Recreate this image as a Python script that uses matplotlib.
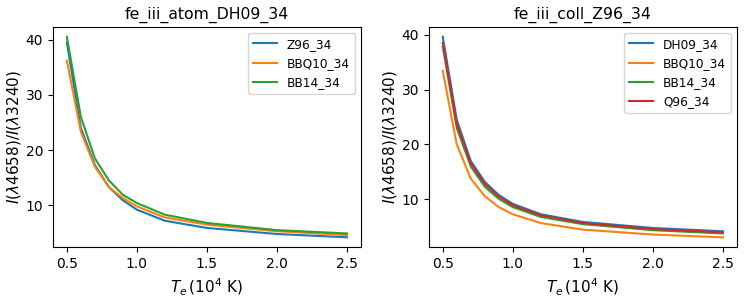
import matplotlib
matplotlib.use("Agg")
from matplotlib import pyplot as plt

# temperature grid in units of 10^4 K
te = [0.5, 0.6, 0.7, 0.8, 0.9, 1.0, 1.2, 1.5, 2.0, 2.5]

# left panel: fe_iii_atom_DH09_34
atom_z96 = [39.5, 24.0, 17.3, 13.3, 10.9, 9.2, 7.2, 5.9, 4.8, 4.2]
atom_bbq10 = [36.2, 23.3, 17.0, 13.3, 11.3, 9.8, 7.8, 6.5, 5.3, 4.6]
atom_bb14 = [40.5, 26.0, 18.5, 14.5, 11.9, 10.4, 8.3, 6.8, 5.5, 4.9]

# right panel: fe_iii_coll_Z96_34
coll_dh09 = [39.6, 24.5, 17.0, 13.2, 10.8, 9.2, 7.3, 5.9, 4.8, 4.2]
coll_bbq10 = [33.4, 20.0, 13.8, 10.6, 8.6, 7.3, 5.7, 4.5, 3.6, 3.1]
coll_bb14 = [37.8, 23.0, 16.0, 12.3, 10.1, 8.6, 6.8, 5.5, 4.4, 3.8]
coll_q96 = [38.5, 23.7, 16.5, 12.8, 10.5, 8.9, 7.1, 5.7, 4.6, 4.0]

panels = [
    ("fe_iii_atom_DH09_34",
     [("Z96_34", atom_z96), ("BBQ10_34", atom_bbq10), ("BB14_34", atom_bb14)]),
    ("fe_iii_coll_Z96_34",
     [("DH09_34", coll_dh09), ("BBQ10_34", coll_bbq10), ("BB14_34", coll_bb14),
      ("Q96_34", coll_q96)]),
]

fig, axes = plt.subplots(1, 2, figsize=(7.55, 2.98), dpi=100)
for ax, (title, series) in zip(axes, panels):
    for name, vals in series:
        ax.plot(te, vals, label=name, lw=1.5)
    ax.set_title(title, fontsize=11.3)
    ax.set_xlabel(r"$T_e\,(10^4$ K)", fontsize=11)
    ax.set_ylabel(r"$I(\lambda4658)/I(\lambda3240)$", fontsize=11, labelpad=2)
    ax.set_xticks([0.5, 1.0, 1.5, 2.0, 2.5])
    ax.set_yticks([10, 20, 30, 40])
    ax.tick_params(labelsize=10)
    ax.legend(loc="upper right", fontsize=8.7)

fig.subplots_adjust(left=0.07, right=0.976, top=0.91, bottom=0.17, wspace=0.22)
fig.savefig("out.png")
